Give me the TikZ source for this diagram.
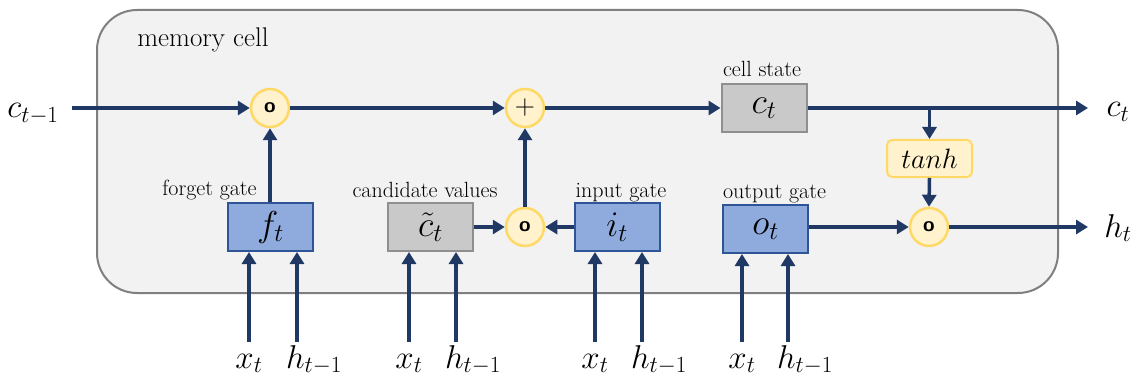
\documentclass[tikz,border=0pt]{standalone}
\usepackage{fix-cm}
\usetikzlibrary{arrows.meta}
\definecolor{navy}{HTML}{203864}
\definecolor{gatefill}{HTML}{8FAADC}
\definecolor{gatedraw}{HTML}{2F5597}
\definecolor{greyfill}{HTML}{C9C9C9}
\definecolor{greydraw}{HTML}{8F8F8F}
\definecolor{opfill}{HTML}{FFF2CC}
\definecolor{opdraw}{HTML}{FFD966}
\definecolor{cellfill}{HTML}{F2F2F2}
\definecolor{celldraw}{HTML}{7F7F7F}
\tikzset{
  cellbox/.style={draw=celldraw, fill=cellfill, line width=2pt, rounded corners=40pt, inner sep=0pt},
  gatebox/.style={draw=gatedraw, fill=gatefill, line width=2pt, minimum width=85pt, minimum height=48pt, inner sep=0pt, font=\fontsize{36}{40}\selectfont},
  greybox/.style={draw=greydraw, fill=greyfill, line width=2pt, minimum width=85pt, minimum height=48pt, inner sep=0pt, font=\fontsize{36}{40}\selectfont},
  opcirc/.style={circle, draw=opdraw, fill=opfill, line width=2.5pt, minimum size=38pt, inner sep=0pt},
  tanhbox/.style={draw=opdraw, fill=opfill, line width=2pt, rounded corners=5pt, minimum width=85pt, minimum height=37pt, inner sep=0pt, font=\fontsize{28}{32}\selectfont},
  smalllabel/.style={anchor=base, inner sep=0pt, font=\fontsize{22}{26}\selectfont},
  mathlabel/.style={anchor=base, inner sep=0pt, font=\fontsize{33}{38}\selectfont},
  flow/.style={draw=navy, line width=3.5pt, -{Triangle[length=12pt,width=14pt]}},
  dotsym/.style={font=\fontsize{21}{21}\sffamily\bfseries\selectfont},
}
\begin{document}
\begin{tikzpicture}[x=1pt,y=-1pt]
\useasboundingbox (0,0) rectangle (1138,385);
% memory cell
\node[cellbox, minimum width=961pt, minimum height=283pt] (cell) at (577.5,151.5) {};
\node[anchor=base, inner sep=0pt, font=\fontsize{27}{32}\selectfont] (memlabel) at (203,47) {memory cell};

% operators
\node[opcirc, dotsym] (fmul) at (270,108) {o};
\node[opcirc, font=\fontsize{28}{28}\selectfont] (plus) at (525,108) {$+$};
\node[opcirc, dotsym] (imul) at (525,227) {o};
\node[opcirc, dotsym] (omul) at (929,227) {o};
\node[tanhbox] (tanh) at (929.5,158.5) {$tanh$};

% boxes
\node[greybox] (ct) at (764,108) {$c_t$};
\node[gatebox] (f) at (270.5,227) {$f_t$};
\node[greybox] (ctil) at (430.5,227) {$\tilde{c}_t$};
\node[gatebox] (it) at (617,227) {$i_t$};
\node[gatebox] (ot) at (765.5,229) {$o_t$};

% box labels
\node[smalllabel] (cslabel) at (762,77) {cell state};
\node[smalllabel] (fglabel) at (209.5,195) {forget gate};
\node[smalllabel] (cvlabel) at (425,197) {candidate values};
\node[smalllabel] (iglabel) at (621,197) {input gate};
\node[smalllabel] (oglabel) at (774.5,198) {output gate};

% outer labels
\node[mathlabel] (cprev) at (33,118) {$c_{t-1}$};
\node[mathlabel] (cnext) at (1118,117) {$c_t$};
\node[mathlabel] (hnext) at (1118,237) {$h_t$};
\coordinate (cstart) at (72,108);
\coordinate (cend) at (1088,108);
\coordinate (hend) at (1088,227);
\coordinate (br) at (tanh.north |- ct.east);

% connectors
\draw[flow] (cstart) -- (fmul.west);
\draw[flow] (fmul.east) -- (plus.west);
\draw[flow] (plus.east) -- (ct.west);
\draw[flow] (ct.east) -- (cend);
\draw[flow] (br) -- (tanh.north);
\draw[flow] (tanh.south) -- (omul.north);
\draw[flow] (ot.east |- omul.west) -- (omul.west);
\draw[flow] (omul.east) -- (hend);
\draw[flow] (f.north -| fmul.south) -- (fmul.south);
\draw[flow] (ctil.east) -- (imul.west);
\draw[flow] (it.west) -- (imul.east);
\draw[flow] (imul.north) -- (plus.south);

% inputs
\foreach \g/\xa/\xb in {f/249/297, ctil/409/456, it/595/642, ot/742/788}{
  \coordinate (\g x) at (\xa,342);
  \coordinate (\g h) at (\xb,342);
  \node[mathlabel] (\g xl) at (\xa,368) {$x_t$};
  \node[mathlabel] (\g hl) at (\xb+17,368) {$h_{t-1}$};
  \draw[flow] (\g x) -- (\g x |- \g.south);
  \draw[flow] (\g h) -- (\g h |- \g.south);
}
\end{tikzpicture}
\end{document}
